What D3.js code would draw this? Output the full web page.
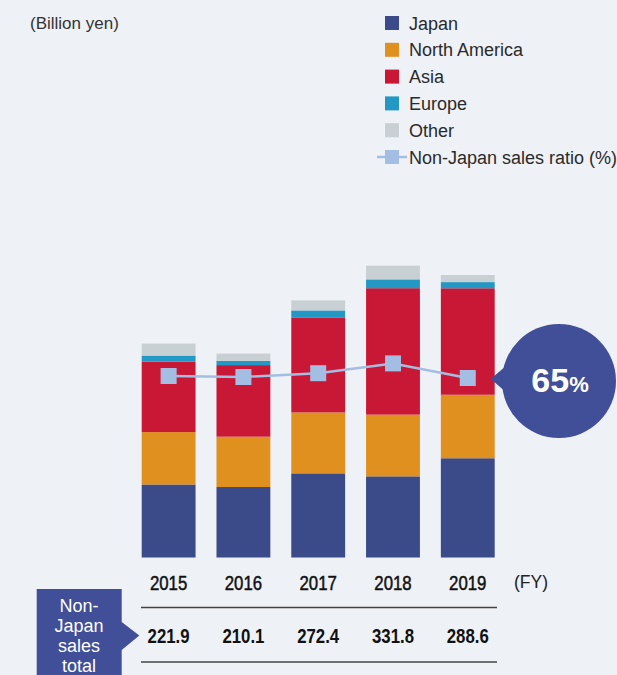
<!DOCTYPE html>
<html>
<head>
<meta charset="utf-8">
<script src="https://cdn.jsdelivr.net/npm/d3@7"></script>
<style>
  body { margin: 0; background: #eef1f6; }
  svg { display: block; font-family: 'Liberation Sans', Arial, sans-serif; }
</style>
</head>
<body>
<div id="chart"></div>
<script>
// data (billion yen)
const years = ['2015', '2016', '2017', '2018', '2019']
const japan = [115.0, 111.0, 132.5, 127.8, 156.3]
const northAmerica = [82.5, 79.3, 96.0, 97.2, 100.0]
const asia = [111.0, 112.7, 149.6, 199.1, 167.7]
const europe = [9.5, 6.6, 11.0, 13.9, 9.7]
const other = [18.9, 11.5, 15.8, 21.6, 11.2]
const nonJapanTotal = ['221.9', '210.1', '272.4', '331.8', '288.6']
const ratio = [65.9, 65.4, 67.3, 72.2, 64.9]
const latestRatio = '65'

const seriesNames = ['Japan', 'North America', 'Asia', 'Europe', 'Other']
const colors = ['#3b4a88', '#e0901f', '#c91836', '#2398c4', '#c9d0d4']
const lineColor = '#a4bde2'
const navy = '#404f97'

const width = 617
const height = 675

const svg = d3.select('#chart')
  .append('svg')
  .attr('width', width)
  .attr('height', height)

svg.append('rect').attr('width', width).attr('height', height).attr('fill', '#eef1f6')

// build table for the stack
const table = years.map(function (y, i) {
  return {
    year: y,
    Japan: japan[i],
    'North America': northAmerica[i],
    Asia: asia[i],
    Europe: europe[i],
    Other: other[i]
  }
})

const x = d3.scaleBand()
  .domain(years)
  .range([141.7, 494.7])
  .paddingInner(0.28)
  .paddingOuter(0)

const y = d3.scaleLinear()
  .domain([0, 500])
  .range([557.5, 240])

// ratio uses its own (hidden) axis
const yRatio = d3.scaleLinear()
  .domain([0, 100])
  .range([507.8, 307.8])

const stacked = d3.stack().keys(seriesNames)(table)

svg.append('g')
  .selectAll('g')
  .data(stacked)
  .enter()
  .append('g')
  .attr('fill', function (d, i) { return colors[i] })
  .selectAll('rect')
  .data(function (d) { return d })
  .enter()
  .append('rect')
  .attr('x', function (d) { return x(d.data.year) })
  .attr('y', function (d) { return y(d[1]) })
  .attr('width', x.bandwidth())
  .attr('height', function (d) { return y(d[0]) - y(d[1]) })

// non-Japan ratio line
const cx = function (d, i) { return x(years[i]) + x.bandwidth() / 2 }
const line = d3.line()
  .x(cx)
  .y(function (d) { return yRatio(d) })

svg.append('path')
  .datum(ratio)
  .attr('d', line)
  .attr('fill', 'none')
  .attr('stroke', lineColor)
  .attr('stroke-width', 2.5)

svg.append('g')
  .selectAll('rect')
  .data(ratio)
  .enter()
  .append('rect')
  .attr('x', function (d, i) { return cx(d, i) - 8 })
  .attr('y', function (d) { return yRatio(d) - 8 })
  .attr('width', 16)
  .attr('height', 16)
  .attr('fill', lineColor)

// callout bubble
const lastX = x(years[4]) + x.bandwidth()
const lastY = yRatio(ratio[4])
const bubble = svg.append('g')
bubble.append('path')
  .attr('d', 'M' + (lastX - 4) + ',' + (lastY + 1) + 'L' + (lastX + 16) + ',' + (lastY - 16) + 'L' + (lastX + 16) + ',' + (lastY + 18) + 'Z')
  .attr('fill', navy)
bubble.append('circle')
  .attr('cx', 559)
  .attr('cy', 381)
  .attr('r', 57)
  .attr('fill', navy)
const bubbleText = bubble.append('text')
  .attr('x', 560)
  .attr('y', 392)
  .attr('text-anchor', 'middle')
  .attr('fill', '#fff')
  .attr('font-weight', 'bold')
bubbleText.append('tspan').attr('font-size', 34).text(latestRatio)
bubbleText.append('tspan').attr('font-size', 22).text('%')

// unit label
svg.append('text')
  .attr('x', 30)
  .attr('y', 29)
  .attr('font-size', 17)
  .attr('fill', '#333')
  .text('(Billion yen)')

// legend
const legend = svg.append('g')
seriesNames.forEach(function (name, i) {
  const cy = 23 + i * 26.8
  legend.append('rect')
    .attr('x', 385)
    .attr('y', cy - 7)
    .attr('width', 14)
    .attr('height', 14)
    .attr('fill', colors[i])
  legend.append('text')
    .attr('x', 409)
    .attr('y', cy + 6.5)
    .attr('font-size', 18)
    .attr('fill', '#2a2a2a')
    .text(name)
})
const ly = 23 + 5 * 26.8
legend.append('line')
  .attr('x1', 377).attr('x2', 407)
  .attr('y1', ly).attr('y2', ly)
  .attr('stroke', lineColor)
  .attr('stroke-width', 2.5)
legend.append('rect')
  .attr('x', 385).attr('y', ly - 7)
  .attr('width', 14).attr('height', 14)
  .attr('fill', lineColor)
legend.append('text')
  .attr('x', 409)
  .attr('y', ly + 6.5)
  .attr('font-size', 18)
  .attr('fill', '#2a2a2a')
  .text('Non-Japan sales ratio (%)')

// year labels and totals table
const tableG = svg.append('g')
years.forEach(function (yr, i) {
  const mx = x(yr) + x.bandwidth() / 2
  tableG.append('text')
    .attr('transform', 'translate(' + mx + ',590) scale(0.84,1)')
    .attr('text-anchor', 'middle')
    .attr('font-size', 20)
    .attr('fill', '#111')
    .attr('stroke', '#111')
    .attr('stroke-width', 0.5)
    .text(yr)
  tableG.append('text')
    .attr('transform', 'translate(' + mx + ',643) scale(0.84,1)')
    .attr('text-anchor', 'middle')
    .attr('font-size', 20)
    .attr('font-weight', 'bold')
    .attr('fill', '#111')
    .text(nonJapanTotal[i])
})
tableG.append('text')
  .attr('x', 514)
  .attr('y', 588)
  .attr('font-size', 17.5)
  .attr('fill', '#222')
  .text('(FY)')

;[607.5, 662].forEach(function (ty) {
  tableG.append('line')
    .attr('x1', 141).attr('x2', 497)
    .attr('y1', ty).attr('y2', ty)
    .attr('stroke', '#444')
    .attr('stroke-width', 1.5)
})

// "Non-Japan sales total" tag
const tag = svg.append('g')
tag.append('path')
  .attr('d', 'M36.7,589L121.7,589L121.7,622L139.3,635.5L121.7,650L121.7,675L36.7,675Z')
  .attr('fill', navy)
;['Non-', 'Japan', 'sales', 'total'].forEach(function (t, i) {
  tag.append('text')
    .attr('x', 79)
    .attr('y', 611.5 + i * 20)
    .attr('text-anchor', 'middle')
    .attr('font-size', 18)
    .attr('fill', '#fff')
    .text(t)
})
</script>
</body>
</html>
